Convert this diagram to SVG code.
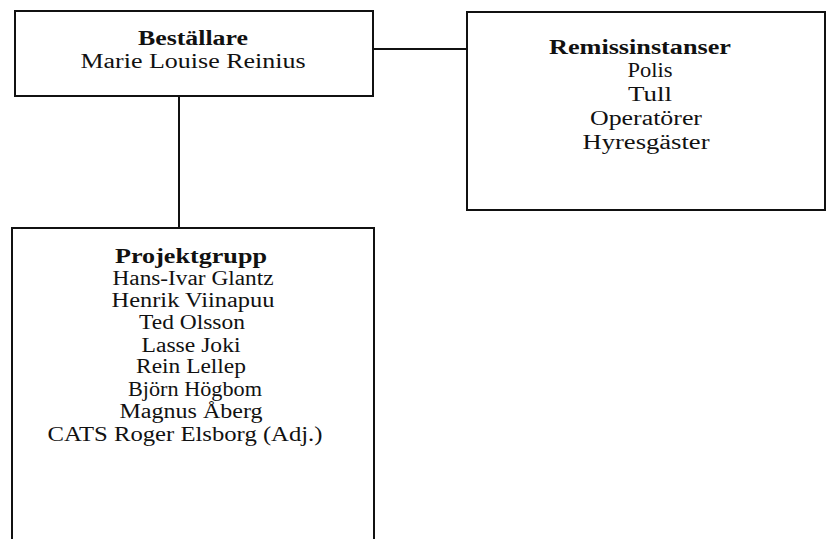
<svg xmlns="http://www.w3.org/2000/svg" width="829" height="539" viewBox="0 0 829 539">
<style>
  .box { fill: #ffffff; stroke: #111111; stroke-width: 2; }
  .conn { fill: none; stroke: #111111; stroke-width: 2; }
  text { font-family: "Liberation Serif", "Times New Roman", serif; font-size: 20px; fill: #111111; text-anchor: middle; }
  .title { font-weight: bold; }
</style>
<rect width="829" height="539" fill="#ffffff"/>
<g id="connectors">
  <line class="conn" x1="373" y1="49" x2="467" y2="49"/>
  <line class="conn" x1="179" y1="96" x2="179" y2="228"/>
</g>
<g id="bestallare">
  <rect class="box" x="15" y="11" width="358" height="85"/>
  <text class="title" x="193" y="45" textLength="110" lengthAdjust="spacingAndGlyphs">Beställare</text>
  <text x="193" y="68" textLength="225" lengthAdjust="spacingAndGlyphs">Marie Louise Reinius</text>
</g>
<g id="remissinstanser">
  <rect class="box" x="467" y="12" width="358" height="198"/>
  <text class="title" x="640" y="54" textLength="182" lengthAdjust="spacingAndGlyphs">Remissinstanser</text>
  <text x="650" y="77" textLength="45" lengthAdjust="spacingAndGlyphs">Polis</text>
  <text x="650" y="101" textLength="44" lengthAdjust="spacingAndGlyphs">Tull</text>
  <text x="646" y="125" textLength="112" lengthAdjust="spacingAndGlyphs">Operatörer</text>
  <text x="646" y="149" textLength="127" lengthAdjust="spacingAndGlyphs">Hyresgäster</text>
</g>
<g id="projektgrupp">
  <rect class="box" x="12" y="228" width="362" height="320"/>
  <text class="title" x="191" y="263" textLength="152" lengthAdjust="spacingAndGlyphs">Projektgrupp</text>
  <text x="193" y="285" textLength="161" lengthAdjust="spacingAndGlyphs">Hans-Ivar Glantz</text>
  <text x="193" y="307" textLength="163" lengthAdjust="spacingAndGlyphs">Henrik Viinapuu</text>
  <text x="192" y="329" textLength="106" lengthAdjust="spacingAndGlyphs">Ted Olsson</text>
  <text x="191" y="352" textLength="99" lengthAdjust="spacingAndGlyphs">Lasse Joki</text>
  <text x="191" y="373" textLength="110" lengthAdjust="spacingAndGlyphs">Rein Lellep</text>
  <text x="195" y="396" textLength="134" lengthAdjust="spacingAndGlyphs">Björn Högbom</text>
  <text x="191" y="418" textLength="143" lengthAdjust="spacingAndGlyphs">Magnus Åberg</text>
  <text x="185" y="441" textLength="275" lengthAdjust="spacingAndGlyphs">CATS Roger Elsborg (Adj.)</text>
</g>
</svg>
